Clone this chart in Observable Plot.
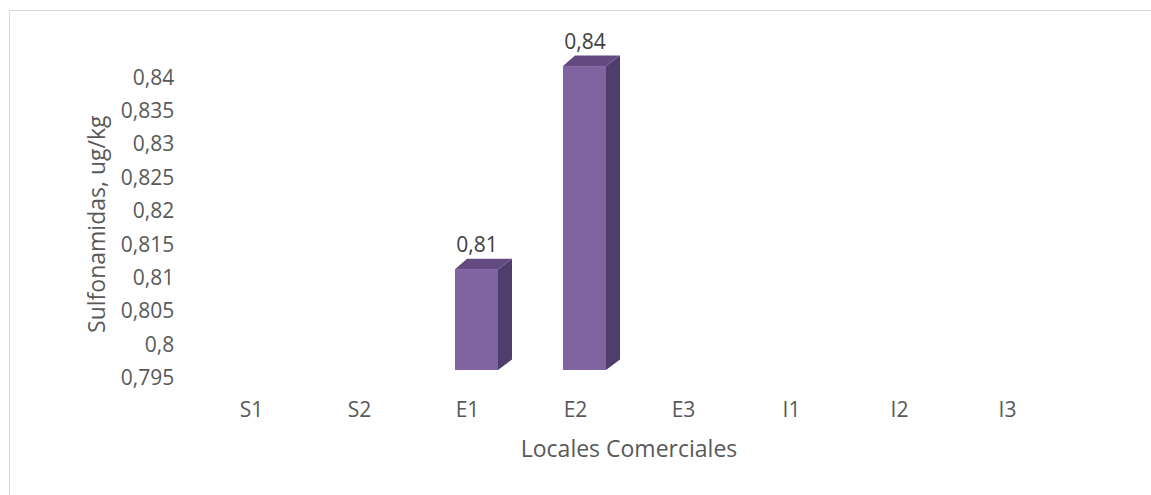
<!DOCTYPE html>
<html>
<head>
<meta charset="utf-8">
<script src="https://cdn.jsdelivr.net/npm/d3@7"></script>
<script src="https://cdn.jsdelivr.net/npm/@observablehq/plot@0.6"></script>
<style>
  html, body { margin: 0; padding: 0; background: #fff; }
  #wrap { position: relative; width: 1151px; height: 495px; overflow: hidden; }
  #border { position: absolute; left: 9px; top: 10px; width: 2000px; height: 2000px;
            border-top: 1px solid #d9d9d9; border-left: 1px solid #d9d9d9; }
  #chart { position: absolute; left: 0; top: 0; }
</style>
</head>
<body>
<div id="wrap"><div id="border"></div><div id="chart"></div></div>
<script>
// ---- data ----
const categories = ["S1", "S2", "E1", "E2", "E3", "I1", "I2", "I3"];
const values = [null, null, 0.8101, 0.8405, null, null, null, null];
const yTicks = [0.795, 0.8, 0.805, 0.81, 0.815, 0.82, 0.825, 0.83, 0.835, 0.84];
const yTickLabels = ["0,795", "0,8", "0,805", "0,81", "0,815", "0,82", "0,825", "0,83", "0,835", "0,84"];
const xTitle = "Locales Comerciales";
const yTitle = "Sulfonamidas, ug/kg";

const table = categories.map((c, i) => ({cat: c, v: values[i]})).filter(d => d.v != null);
const yFloor = yTicks[0];
const fmt = v => (Math.round(v * 100) / 100).toString().replace(".", ",");

const FONT = "'Open Sans', sans-serif";
const frontColor = "#8064a2";
const sideColor = "#4f3d6b";
const topColor = "#634b82";
const insetL = 42, insetR = 23;
const depthX = 14, depthY = 10.5;

// draws the side and top faces of the 3D columns from the plot's own scales
function faces(index, scales, values, dimensions) {
  const ns = "http://www.w3.org/2000/svg";
  const g = document.createElementNS(ns, "g");
  const sx = scales.x, sy = scales.y;
  const bw = sx(categories[1]) - sx(categories[0]);
  for (const d of table) {
    const b = sx(d.cat);
    const x0 = b + insetL, x1 = b + bw - insetR;
    const yt = sy(d.v), yb = sy(yFloor);
    const side = document.createElementNS(ns, "polygon");
    side.setAttribute("points", [[x1, yb], [x1, yt], [x1 + depthX, yt - depthY], [x1 + depthX, yb - depthY]].map(p => p.join(",")).join(" "));
    side.setAttribute("fill", sideColor);
    g.appendChild(side);
    const top = document.createElementNS(ns, "polygon");
    top.setAttribute("points", [[x0, yt], [x1, yt], [x1 + depthX, yt - depthY], [x0 + depthX - 2, yt - depthY]].map(p => p.join(",")).join(" "));
    top.setAttribute("fill", topColor);
    g.appendChild(top);
  }
  return g;
}

const chart = Plot.plot({
  width: 1151,
  height: 495,
  marginLeft: 194.8,
  marginRight: 88.8,
  marginTop: 69.4,
  marginBottom: 125,
  style: {fontFamily: FONT, background: "transparent", overflow: "visible"},
  x: {type: "band", domain: categories, padding: 0, axis: null},
  y: {domain: [yTicks[0], yTicks[yTicks.length - 1]], axis: null},
  marks: [
    Plot.axisY({ticks: yTicks, tickFormat: d => yTickLabels[yTicks.indexOf(d)], tickSize: 0, tickPadding: 21,
                dy: 8, label: null, fontSize: 21, fill: "#595959", textAnchor: "end"}),
    Plot.axisX({tickSize: 0, tickPadding: 32, label: null, fontSize: 21, fill: "#595959"}),
    Plot.barY(table, {x: "cat", y1: () => yFloor, y2: "v", fill: frontColor, insetLeft: insetL, insetRight: insetR}),
    Plot.barY(table, {x: "cat", y1: () => yFloor, y2: "v", fill: "none", render: faces}),
    Plot.text(table, {x: "cat", y: "v", text: d => fmt(d.v), dx: 9.5, dy: -24.5, lineAnchor: "middle",
                      fontSize: 21, fill: "#404040"}),
    Plot.text([xTitle], {frameAnchor: "bottom", dy: 79, lineAnchor: "middle", fontSize: 23, fill: "#595959"}),
    Plot.text([yTitle], {frameAnchor: "left", textAnchor: "middle", dx: -97.8, dy: 4, rotate: -90, lineAnchor: "middle", fontSize: 23, fill: "#595959"})
  ]
});
document.getElementById("chart").appendChild(chart);
</script>
</body>
</html>
